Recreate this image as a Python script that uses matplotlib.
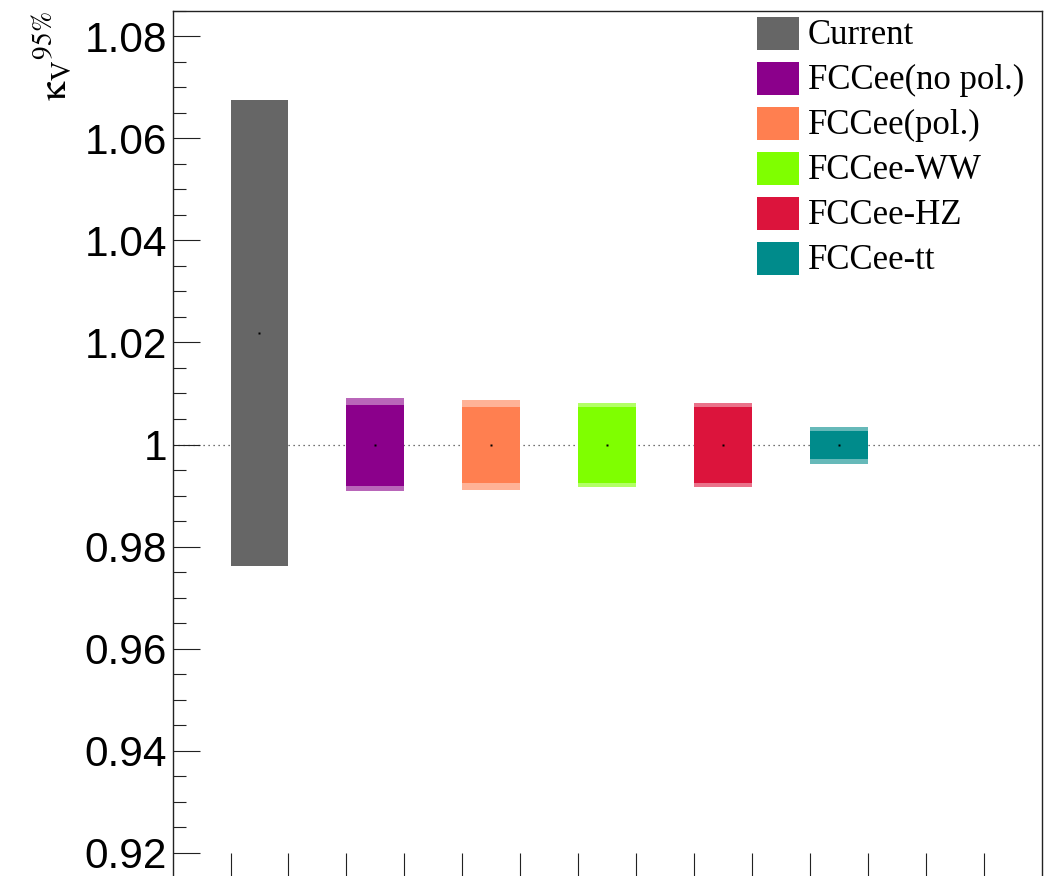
import matplotlib
matplotlib.use("Agg")
import matplotlib.pyplot as plt
from matplotlib.patches import Rectangle

# ---- data ----
labels = ["Current", "FCCee(no pol.)", "FCCee(pol.)", "FCCee-WW", "FCCee-HZ", "FCCee-tt"]
colors = ["#666666", "#8b008b", "#ff7f50", "#7fff00", "#dc143c", "#008b8b"]
x_left = [1, 3, 5, 7, 9, 11]
centers = [1.0219, 1.0, 1.0, 1.0, 1.0, 1.0]
inner_lo = [0.9763, 0.9919, 0.9924, 0.9924, 0.9924, 0.9972]
inner_hi = [1.0675, 1.0077, 1.0074, 1.0074, 1.0074, 1.0026]
outer_lo = [0.9763, 0.9908, 0.9911, 0.9917, 0.9917, 0.9962]
outer_hi = [1.0675, 1.0091, 1.0087, 1.0081, 1.0081, 1.0035]
y_ticks = [0.92, 0.94, 0.96, 0.98, 1.00, 1.02, 1.04, 1.06, 1.08]
y_ticklabels = ["0.92", "0.94", "0.96", "0.98", "1", "1.02", "1.04", "1.06", "1.08"]
x_ticks = list(range(1, 15))

plt.rcParams["mathtext.fontset"] = "stix"

W, H = 1052, 876
fig = plt.figure(figsize=(W / 100, H / 100), dpi=100)
ax_l, ax_r, ax_t, ax_b = 172.6, 1041.5, 10.5, 878.5
ax = fig.add_axes([ax_l / W, (H - ax_b) / H, (ax_r - ax_l) / W, (ax_b - ax_t) / H])
ax.set_xlim(0, 15)
ax.set_ylim(0.915, 1.085)

# reference line
ax.axhline(1.0, color="#444444", lw=0.9, ls=(0, (1, 3)), zorder=1)

# bars
for i in range(len(labels)):
    ax.bar(x_left[i], outer_hi[i] - outer_lo[i], bottom=outer_lo[i], width=1,
           align="edge", color=colors[i], alpha=0.6, lw=0, zorder=2)
    ax.bar(x_left[i], inner_hi[i] - inner_lo[i], bottom=inner_lo[i], width=1,
           align="edge", color=colors[i], lw=0, zorder=3)
    ax.plot(x_left[i] + 0.5, centers[i], marker="s", ms=1.5, color="black",
            mec="none", zorder=4)

# axes styling
for s in ax.spines.values():
    s.set_linewidth(1.0)
    s.set_color("#222222")
ax.set_yticks(y_ticks)
ax.set_yticklabels(y_ticklabels, fontfamily="Liberation Sans", fontsize=30.5)
ax.set_yticks([0.915 + 0.005 * k for k in range(35)], minor=True)
ax.set_xticks(x_ticks)
ax.set_xticklabels([])
ax.tick_params(axis="y", which="major", direction="in", length=19.5, width=0.8,
               pad=4, right=False, color="#222222")
ax.tick_params(axis="y", which="minor", direction="in", length=9.3, width=0.8,
               right=False, color="#222222")
ax.tick_params(axis="x", which="major", direction="in", length=18.5, width=0.8,
               top=False, color="#222222")

# y label
fig.text(53 / W, 1 - 11 / H, r"$\mathrm{κ}_{\mathrm{V}}{}^{95\%}$", rotation=90,
         ha="center", va="top", fontsize=28)

# legend (drawn manually, in axes fraction)
def fx(px):
    return (px - ax_l) / (ax_r - ax_l)

def fy(py):
    return (ax_b - py) / (ax_b - ax_t)

for i, lab in enumerate(labels):
    cy = 33.7 + 45 * i
    ax.add_patch(Rectangle((fx(757), fy(cy + 16.5)), fx(799) - fx(757), fy(cy - 16.5) - fy(cy + 16.5),
                           transform=ax.transAxes, color=colors[i], lw=0, zorder=5, clip_on=False))
    ax.text(fx(808), fy(cy + 10.5), lab, transform=ax.transAxes, ha="left", va="baseline",
            fontfamily="Liberation Serif", fontsize=25, zorder=5)

fig.savefig("out.png", dpi=100)
